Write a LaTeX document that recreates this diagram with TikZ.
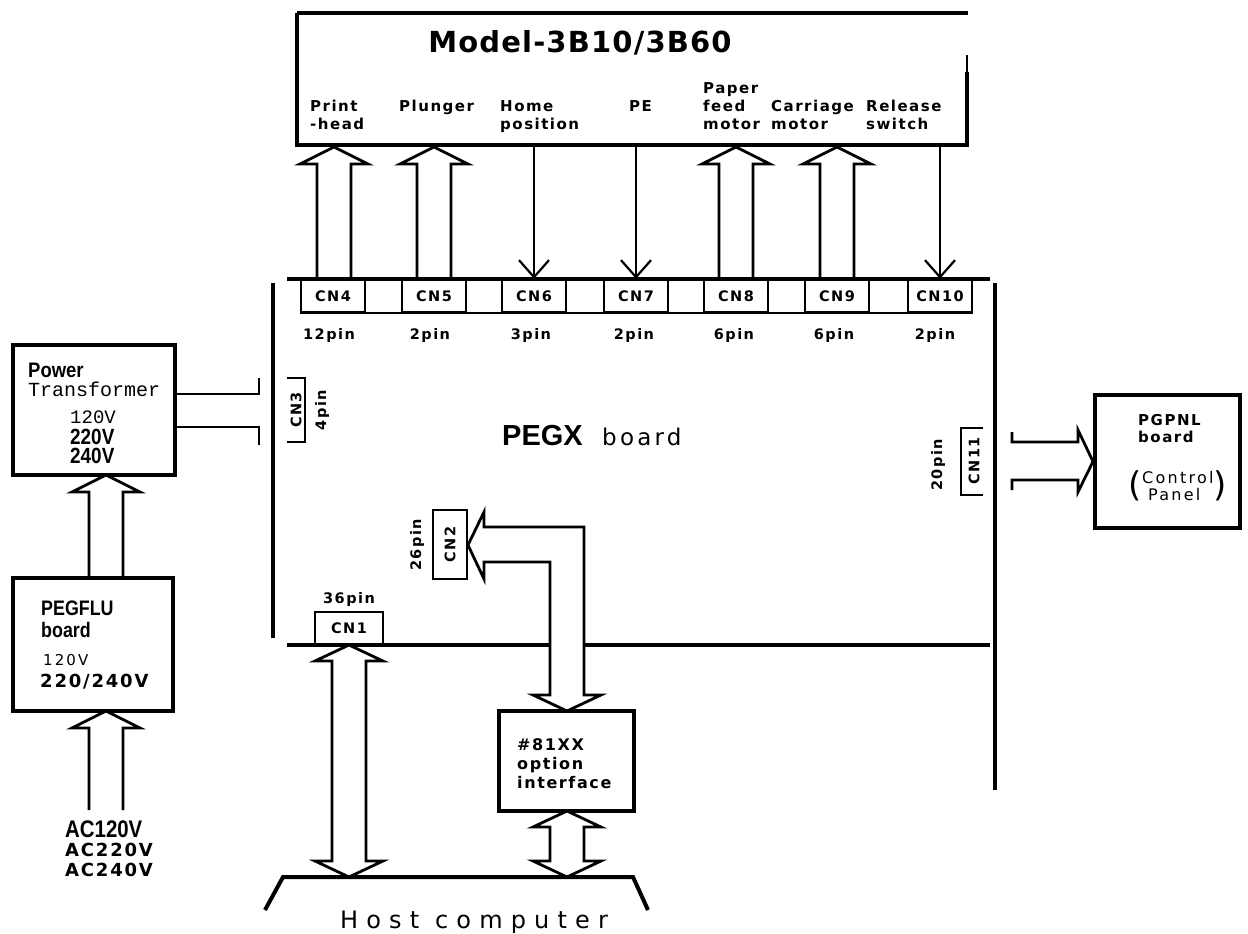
\documentclass[tikz,border=0pt]{standalone}
\usepackage{fontspec}
\usepackage{graphicx}
\setmainfont{DejaVu Sans}
\newfontfamily\plotf{DejaVu Sans}[LetterSpace=10]
\newfontfamily\titlef{DejaVu Sans}[LetterSpace=4]
\newfontfamily\widef{DejaVu Sans}[LetterSpace=14]
\newfontfamily\hostf{DejaVu Sans}[LetterSpace=34]
\newfontfamily\arialf{Liberation Sans}
\newfontfamily\courf{Liberation Mono}
\usetikzlibrary{arrows.meta,calc}
\newcommand{\fatup}[3]{%
  \draw[arr] ({#1-17},#3) -- ({#1-17},{#2+17}) -- ({#1-34},{#2+17}) -- (#1,#2)
    -- ({#1+34},{#2+17}) -- ({#1+17},{#2+17}) -- ({#1+17},#3);}
\newcommand{\fatboth}[3]{%
  \draw[arr,fill=white] (#1,#2) -- ({#1+34},{#2+16}) -- ({#1+17},{#2+16}) -- ({#1+17},{#3-16})
    -- ({#1+34},{#3-16}) -- (#1,#3) -- ({#1-34},{#3-16}) -- ({#1-17},{#3-16})
    -- ({#1-17},{#2+16}) -- ({#1-34},{#2+16}) -- cycle;}
\tikzset{
  heavy/.style={line width=4pt},
  arr/.style={line width=2.8pt, line join=miter},
  thinarr/.style={line width=2.2pt, -{Straight Barb[length=17pt,width=30pt,line width=2.2pt]}},
  plot/.style={inner sep=0pt, font=\plotf\bfseries\fontsize{14.5}{19}\selectfont},
  lbl/.style={inner sep=0pt, align=left, anchor=base west, font=\plotf\bfseries\fontsize{15}{18}\selectfont},
  cnbox/.style={draw, line width=2.4pt, minimum width=64pt, minimum height=32pt, inner sep=0pt,
    font=\plotf\bfseries\fontsize{14.5}{18}\selectfont},
  pinlbl/.style={plot, anchor=base},
  bigbox/.style={draw, heavy, inner sep=0pt},
  txt/.style={inner sep=0pt, anchor=base west, align=left},
}
\begin{document}
\begin{tikzpicture}[x=1pt,y=-1pt]
\fill[white] (0,0) rectangle (1248,934);
\useasboundingbox (0,0) rectangle (1248,934);

% ---------------- Model box ----------------
\draw[heavy] (297,13) -- (968,13);
\draw[heavy] (297,13) -- (297,145) -- (967,145) -- (967,72);
\draw[line width=1.5pt] (967,72) -- (967,55);
\coordinate (mb) at (0,145);
\node[inner sep=0pt, font=\titlef\bfseries\fontsize{29}{30}\selectfont] (title) at (580,43) {Model-3B10/3B60};
\node[lbl] (lph) at (310,129) {Print\\-head};
\node[lbl] (lpl) at (399,111) {Plunger};
\node[lbl] (lhp) at (500,129) {Home\\position};
\node[lbl] (lpe) at (629,111) {PE};
\node[lbl] (lpf) at (703,129) {Paper\\feed\\motor};
\node[lbl] (lcm) at (771,129) {Carriage\\motor};
\node[lbl] (lrs) at (866,129) {Release\\switch};

% ---------------- PEGX board ----------------
\draw[heavy] (287,279) -- (990,279);
\draw[heavy] (273,283) -- (273,638);
\draw[heavy] (287,645) -- (990,645);
\draw[heavy] (995,283) -- (995,790);

\node[cnbox] (cn4) at (333,296) {CN4};
\node[cnbox] (cn5) at (434,296) {CN5};
\node[cnbox] (cn6) at (534,296) {CN6};
\node[cnbox] (cn7) at (636,296) {CN7};
\node[cnbox] (cn8) at (736,296) {CN8};
\node[cnbox] (cn9) at (837,296) {CN9};
\node[cnbox] (cn10) at (940,296) {CN10};
\draw[line width=2.4pt] (cn4.south west) -- (cn10.south east);

\node[pinlbl] (p4) at (329,339) {12pin};
\node[pinlbl] (p5) at (430,339) {2pin};
\node[pinlbl] (p6) at (531,339) {3pin};
\node[pinlbl] (p7) at (634,339) {2pin};
\node[pinlbl] (p8) at (734,339) {6pin};
\node[pinlbl] (p9) at (834,339) {6pin};
\node[pinlbl] (p10) at (935,339) {2pin};

% arrows between board and model
\fatup{334}{147}{279}
\fatup{434}{147}{279}
\fatup{736}{147}{279}
\fatup{837}{147}{279}
\draw[thinarr] (cn6 |- mb) -- (cn6.north);
\draw[thinarr] (cn7 |- mb) -- (cn7.north);
\draw[thinarr] (cn10 |- mb) -- (cn10.north);

% board title
\node[inner sep=0pt, anchor=base west, font=\arialf\bfseries\fontsize{29}{30}\selectfont] (pegx) at (502,445) {PEGX};
\node[inner sep=0pt, anchor=base west, font=\widef\fontsize{23}{25}\selectfont] (pegxb) at (602,445) {board};

% CN3
\draw[line width=2.4pt] (287,378) -- (305,378) -- (305,442) -- (287,442);
\node[plot, rotate=90] (cn3) at (296,410) {CN3};
\node[plot, rotate=90] (p3) at (322,410) {4pin};

% CN11
\draw[line width=2.4pt] (983,428) -- (961,428) -- (961,495) -- (983,495);
\node[plot, rotate=90] (cn11) at (974,461) {CN11};
\node[plot, rotate=90] (p11) at (938,465) {20pin};

% CN2
\node[draw, line width=2.4pt, rotate=90, minimum width=69pt, minimum height=34pt, inner sep=0pt,
  font=\plotf\bfseries\fontsize{14.5}{18}\selectfont] (cn2) at (450,544.5) {CN2};
\node[plot, rotate=90] (p2) at (417,545) {26pin};

% CN1
\node[draw, line width=2.4pt, minimum width=68pt, minimum height=33pt, inner sep=0pt,
  font=\plotf\bfseries\fontsize{14.5}{18}\selectfont] (cn1) at (349,628.5) {CN1};
\node[pinlbl] (p1) at (349,603) {36pin};

% CN2 <-> option interface arrow
\draw[arr, fill=white] (468,545) -- (484,512) -- (484,527) -- (584,527) -- (584,695) -- (601,695)
  -- (567,711) -- (533,695) -- (550,695) -- (550,562) -- (484,562) -- (484,579) -- cycle;

% option interface box
\node[bigbox, minimum width=135pt, minimum height=100pt] (opt) at (566.5,761) {};
\node[txt, font=\plotf\bfseries\fontsize{16}{19}\selectfont] (optt) at (517,788) {\#81XX\\option\\interface};

\fatboth{567}{811}{877}
\fatboth{349}{645}{877}

% host computer
\coordinate (hl) at (283,877);
\coordinate (hr) at (633,877);
\draw[heavy] (265,910) -- (hl) -- (hr) -- (648,910);
\node[inner sep=0pt, anchor=base west, font=\hostf\fontsize{24}{26}\selectfont] (host) at (340,928) {Host computer};

% ---------------- Power transformer ----------------
\node[bigbox, minimum width=162pt, minimum height=130pt] (ptr) at (94,410) {};
\node[txt, font=\arialf\bfseries\fontsize{21}{22}\selectfont] (ptr1) at (28,377) {\scalebox{0.88}[1]{Power}};
\node[txt, font=\courf\fontsize{20}{22}\selectfont] (ptr2) at (28,396) {Transformer};
\node[txt, font=\courf\fontsize{19}{22}\selectfont] (ptr3) at (70,423) {120V};
\node[txt, font=\arialf\bfseries\fontsize{22}{17}\selectfont] (ptr4) at (70,444) {\scalebox{0.86}[1]{220V}};
\node[txt, font=\arialf\bfseries\fontsize{22}{17}\selectfont] (ptr5) at (70,463) {\scalebox{0.86}[1]{240V}};

\draw[arr] (ptr.east |- 0,394) -- (259,394) -- (259,378);
\draw[arr] (ptr.east |- 0,427) -- (259,427) -- (259,445);

% ---------------- PEGFLU ----------------
\node[bigbox, minimum width=160pt, minimum height=133pt] (flu) at (93,644.5) {};
\node[txt, font=\arialf\bfseries\fontsize{21}{22}\selectfont] (flu1) at (41,615) {\scalebox{0.85}[1]{PEGFLU}};
\node[txt, font=\arialf\bfseries\fontsize{21}{22}\selectfont] (flu2) at (41,637) {\scalebox{0.85}[1]{board}};
\node[txt, font=\widef\fontsize{15}{18}\selectfont] (flu3) at (43,665) {120V};
\node[txt, font=\plotf\bfseries\fontsize{18}{20}\selectfont] (flu4) at (40,687) {220/240V};

\fatup{106}{475}{578}
\fatup{106}{711}{810}

% AC labels
\node[txt, font=\arialf\bfseries\fontsize{24}{24}\selectfont] (ac1) at (65,837) {\scalebox{0.85}[1]{AC120V}};
\node[txt, font=\plotf\bfseries\fontsize{18}{20}\selectfont] (ac2) at (65,856) {AC220V};
\node[txt, font=\plotf\bfseries\fontsize{18}{20}\selectfont] (ac3) at (65,876) {AC240V};

% ---------------- PGPNL ----------------
\node[bigbox, minimum width=145pt, minimum height=133pt] (pg) at (1167.5,461.5) {};
\node[txt, font=\plotf\bfseries\fontsize{15}{17}\selectfont] (pg1) at (1138,442) {PGPNL\\board};
\node[txt, font=\widef\fontsize{16}{17}\selectfont] (pg2) at (1142,483) {Control};
\node[txt, font=\widef\fontsize{16}{17}\selectfont] (pg3) at (1148,500) {Panel};
\node[inner sep=0pt, font=\fontsize{34}{34}\selectfont] (lpar) at (1135,486) {(};
\node[inner sep=0pt, font=\fontsize{34}{34}\selectfont] (rpar) at (1220,486) {)};

\draw[arr] (1012,432) -- (1012,442) -- (1078,442) -- (1078,430) -- (pg.west) -- (1078,492)
  -- (1078,480) -- (1012,480) -- (1012,490);
\end{tikzpicture}
\end{document}
